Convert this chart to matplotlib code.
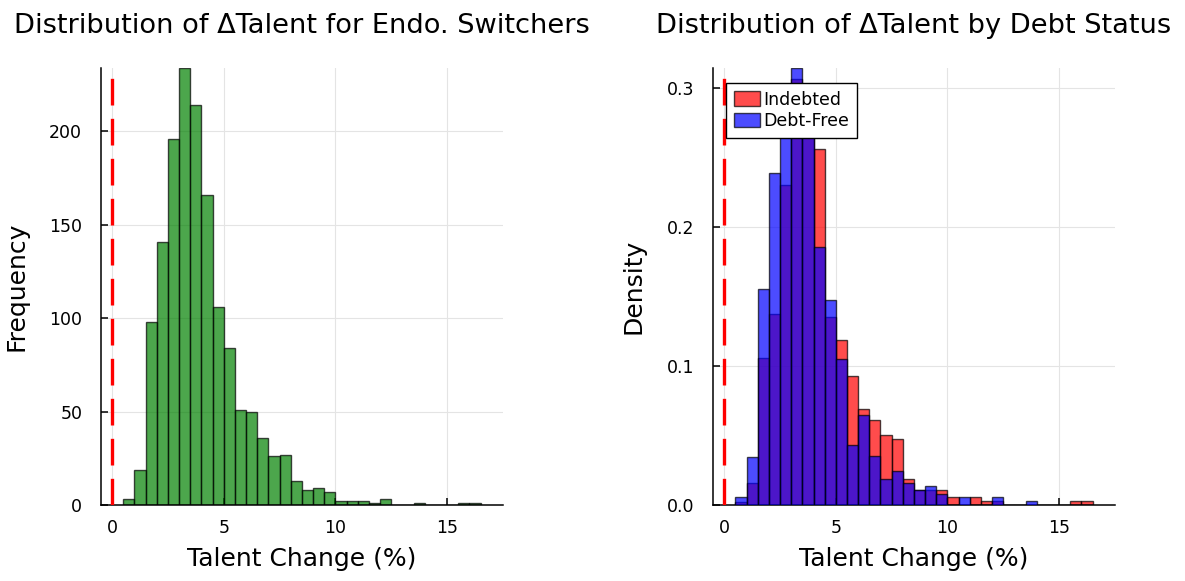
import numpy as np
import matplotlib.pyplot as plt

# histogram bins: 0.5 wide, starting at 0.5
bin_start = 0.5
bin_width = 0.5

# counts of talent change for endogenous switchers
switcher_counts = [3, 19, 98, 141, 196, 234, 214, 166, 106, 84, 51, 50, 36, 26, 27, 13,
                   8, 9, 7, 2, 2, 2, 1, 3, 0, 0, 1, 0, 0, 0, 1, 1]

# densities by debt status
indebted_density = [0.0024, 0.0156, 0.1056, 0.1373, 0.230, 0.3065, 0.290, 0.2563,
                     0.1349, 0.1188, 0.0926, 0.0689, 0.0610, 0.0502, 0.0475, 0.0187,
                     0.0108, 0.0108, 0.0106, 0.0055, 0.0, 0.0055, 0.0026, 0.0026,
                     0.0, 0.0, 0.0, 0.0, 0.0, 0.0, 0.0026, 0.0026]
debtfree_density = [0.0055, 0.0348, 0.1557, 0.2388, 0.294, 0.3144, 0.280, 0.1853,
                    0.1478, 0.1049, 0.0432, 0.0646, 0.0350, 0.0187, 0.0242, 0.0161,
                    0.0108, 0.0137, 0.0079, 0.0, 0.0055, 0.0, 0.0, 0.0055,
                    0.0, 0.0, 0.0026, 0.0, 0.0, 0.0, 0.0, 0.0]

x_ticks = [0, 5, 10, 15]
left_yticks = [0, 50, 100, 150, 200]
right_yticks = [0.0, 0.1, 0.2, 0.3]


def bin_lefts(n):
    return bin_start + bin_width * np.arange(n)


def style_axes(ax):
    ax.set_xlim(-0.5, 17.5)
    ax.set_xticks(x_ticks)
    ax.grid(True, color="#e4e4e4", linewidth=0.8)
    ax.set_axisbelow(True)
    for side in ("top", "right"):
        ax.spines[side].set_visible(False)
    for side in ("left", "bottom"):
        ax.spines[side].set_linewidth(1.1)
    ax.tick_params(direction="in", length=5, width=1.1, labelsize=12.5)
    ax.tick_params(axis="x", pad=10)
    ax.tick_params(axis="y", pad=13.5)
    ax.axvline(0, color="red", linewidth=2.4, linestyle=(0, (8, 4)), zorder=5)


fig = plt.figure(figsize=(11.85, 5.81), dpi=100)
ax1 = fig.add_axes([0.0852, 0.1308, 0.3392, 0.7522])
ax2 = fig.add_axes([0.6017, 0.1308, 0.3392, 0.7522])

# left: frequency histogram
ax1.bar(bin_lefts(len(switcher_counts)), switcher_counts, width=bin_width, align="edge",
        color="green", edgecolor="black", linewidth=1.0, alpha=0.7, zorder=2)
style_axes(ax1)
ax1.set_ylim(0, max(switcher_counts))
ax1.set_yticks(left_yticks)
ax1.set_title("Distribution of ΔTalent for Endo. Switchers", fontsize=19.6, pad=25)
ax1.set_xlabel("Talent Change (%)", fontsize=18, labelpad=7)
ax1.set_ylabel("Frequency", fontsize=18, labelpad=15)

# right: density by debt status
ax2.bar(bin_lefts(len(indebted_density)), indebted_density, width=bin_width, align="edge",
        color="red", edgecolor="black", linewidth=1.0, alpha=0.7, zorder=2, label="Indebted")
ax2.bar(bin_lefts(len(debtfree_density)), debtfree_density, width=bin_width, align="edge",
        color="blue", edgecolor="black", linewidth=1.0, alpha=0.7, zorder=3, label="Debt-Free")
style_axes(ax2)
ax2.set_ylim(0, max(max(indebted_density), max(debtfree_density)))
ax2.set_yticks(right_yticks)
ax2.set_yticklabels([f"{v:.1f}" for v in right_yticks])
ax2.set_title("Distribution of ΔTalent by Debt Status", fontsize=19.6, pad=25)
ax2.set_xlabel("Talent Change (%)", fontsize=18, labelpad=7)
ax2.set_ylabel("Density", fontsize=18, labelpad=15)

leg = ax2.legend(loc="upper left", bbox_to_anchor=(0.032, 0.966), fontsize=12.5,
                 fancybox=False, framealpha=1, edgecolor="black", borderpad=0.45,
                 handlelength=1.5, handleheight=0.9, handletextpad=0.2,
                 labelspacing=0.2, borderaxespad=0)
leg.get_frame().set_linewidth(1.0)
leg.set_zorder(10)

fig.savefig("out.png", dpi=100)
